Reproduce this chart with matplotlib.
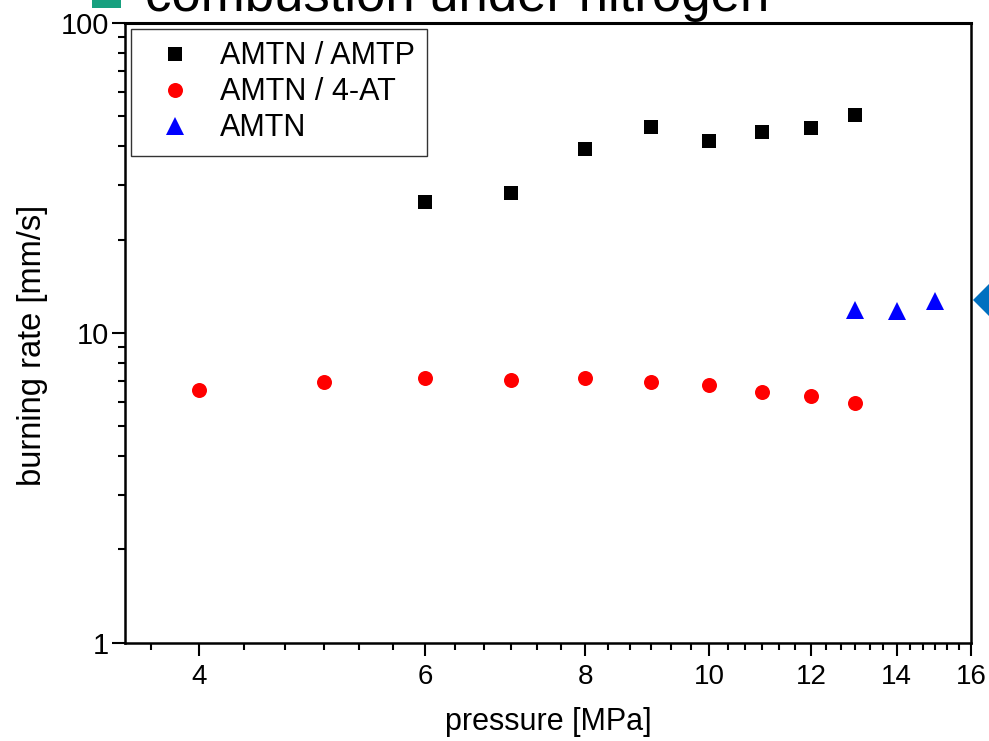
import numpy as np
import matplotlib
matplotlib.use("Agg")
import matplotlib.pyplot as plt
from matplotlib.ticker import FixedLocator, LogLocator, NullFormatter
from matplotlib.lines import Line2D
from matplotlib.patches import Rectangle

plt.rcParams['font.family'] = ['Liberation Sans', 'DejaVu Sans']
NARROW = ['Liberation Sans Narrow', 'Liberation Sans', 'DejaVu Sans']

# burning rate data (mm/s) vs pressure (MPa)
p_amtp = [6, 7, 8, 9, 10, 11, 12, 13]
r_amtp = [26.4, 28.3, 39.2, 46.1, 41.6, 44.5, 45.8, 50.5]

p_4at = [4, 5, 6, 7, 8, 9, 10, 11, 12, 13]
r_4at = [6.54, 6.94, 7.15, 7.04, 7.15, 6.94, 6.79, 6.44, 6.25, 5.94]

p_amtn = [13, 14, 15]
r_amtn = [11.85, 11.8, 12.66]

x_ticks = [4, 6, 8, 10, 12, 14, 16]
y_ticks = [1, 10, 100]

W, H = 989, 741
fig = plt.figure(figsize=(W / 100, H / 100), dpi=100)
ax = fig.add_axes([125 / W, 1 - 642.7 / H, (971 - 125) / W, (642.7 - 23) / H])

ax.plot(p_amtp, r_amtp, 's', color='black', ms=9.6, mew=0, label='AMTN / AMTP')
ax.plot(p_4at, r_4at, 'o', color='red', ms=10.8, mew=0, label='AMTN / 4-AT')
ax.plot(p_amtn, r_amtn, '^', color='blue', ms=12.5, mew=0, label='AMTN')

ax.set_xscale('log')
ax.set_yscale('log')
ax.set_xlim(3.5, 16)
ax.set_ylim(1, 100)

# x: majors every 2, minors every 1/3
ax.xaxis.set_major_locator(FixedLocator(x_ticks))
ax.xaxis.set_minor_locator(FixedLocator([k / 3 for k in range(11, 48) if k % 6 != 0]))
ax.xaxis.set_minor_formatter(NullFormatter())
ax.set_xticklabels([str(t) for t in x_ticks], family=NARROW, fontsize=20)

ax.yaxis.set_major_locator(FixedLocator(y_ticks))
ax.yaxis.set_minor_locator(LogLocator(base=10, subs=np.arange(2, 10)))
ax.yaxis.set_minor_formatter(NullFormatter())
ax.set_yticklabels([str(t) for t in y_ticks], fontsize=21)

ax.tick_params(which='major', direction='out', length=9.4, width=1.5)
ax.tick_params(axis='y', which='major', pad=2)
ax.tick_params(axis='x', which='major', pad=6)
ax.tick_params(which='minor', direction='out', length=5, width=1.5)
for s in ax.spines.values():
    s.set_linewidth(1.8)
ax.spines['top'].set_linewidth(2.2)

ax.set_xlabel('pressure [MPa]', fontsize=22, labelpad=12)
ax.set_ylabel('burning rate [mm/s]', fontsize=23.5)
ax.yaxis.set_label_coords(-0.091, 0.48)

leg = ax.legend(loc='upper left', bbox_to_anchor=(6 / 846, 1 - 6 / 619.7),
                borderaxespad=0, fontsize=22, frameon=True, fancybox=False,
                borderpad=0.4, labelspacing=0.2, handlelength=2.1,
                handletextpad=0.4, numpoints=1)
leg.get_frame().set_edgecolor('black')
leg.get_frame().set_linewidth(1.0)

# slide decorations cut by the figure edge
fig.text(145 / W, 1 - 11 / H, 'combustion under nitrogen', fontsize=38, va='baseline')
fig.add_artist(Rectangle((92 / W, 1 - 8 / H), 29 / W, 20 / H,
                         transform=fig.transFigure, color='#17a07f', lw=0))
fig.add_artist(Line2D([990 / W], [1 - 300 / H], marker='D', ms=17, color='#0070c0',
                      mew=0, transform=fig.transFigure))

fig.savefig('out.png', dpi=100)
